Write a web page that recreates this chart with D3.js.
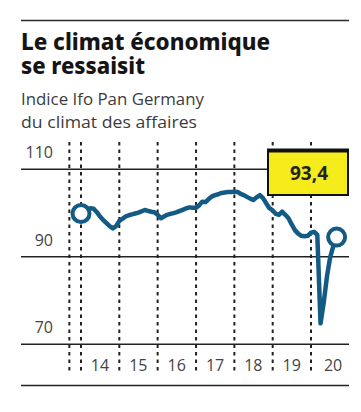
<!DOCTYPE html>
<html>
<head>
<meta charset="utf-8">
<script src="https://cdn.jsdelivr.net/npm/d3@7"></script>
<style>
  body { margin: 0; background: #fff; }
  svg { display: block; }
</style>
</head>
<body>
<svg id="vis" width="361" height="412"></svg>
<script>
// monthly index, Jan 2014 .. Sep 2020
const values2014 = [99.9, 100.3, 100.8, 101.1, 101.0, 100.2, 99.2, 98.4, 97.7, 97.0, 96.5, 97.0];
const values2015 = [98.2, 98.7, 99.2, 99.5, 99.7, 99.9, 100.1, 100.4, 100.7, 100.5, 100.3, 100.2];
const values2016 = [99.6, 98.8, 99.2, 99.6, 99.8, 100.0, 100.2, 100.5, 100.8, 101.1, 101.3, 101.2];
const values2017 = [101.2, 101.8, 102.6, 102.5, 103.2, 103.8, 104.1, 104.3, 104.6, 104.7, 104.8, 104.8];
const values2018 = [104.9, 104.8, 104.4, 104.1, 103.7, 103.3, 103.0, 103.6, 104.1, 103.4, 102.2, 101.1];
const values2019 = [100.6, 99.8, 99.6, 100.3, 99.6, 98.8, 97.4, 96.1, 95.3, 94.8, 94.7, 94.8];
const values2020 = [95.5, 95.7, 95.0, 74.8, 79.5, 85.5, 89.8, 92.5, 94.5];

const yearLabels = ['14', '15', '16', '17', '18', '19', '20'];
const yTicks = [110, 90, 70];
const lastLabel = '93,4';
const title = ['Le climat économique', 'se ressaisit'];
const subtitle = ['Indice Ifo Pan Germany', 'du climat des affaires'];

const allValues = [].concat(values2014, values2015, values2016, values2017, values2018, values2019, values2020);
const series = allValues.map((v, i) => ({date: new Date(2014, i, 1), value: v}));

const vis = d3.select('#vis');
const left = 21, right = 349;
const lineColor = '#135b85';

const x = d3.scaleTime()
  .domain([new Date(2014, 0, 1), new Date(2020, 0, 1)])
  .range([81, 311]);
const y = d3.scaleLinear()
  .domain([70, 110])
  .range([344.3, 169.3]);

// top rule
vis.append('line')
  .attr('x1', left).attr('x2', right)
  .attr('y1', 20.5).attr('y2', 20.5)
  .attr('stroke', '#2a2a2a').attr('stroke-width', 1.6);

vis.append('g').selectAll('text')
  .data(title)
  .join('text')
    .attr('x', left)
    .attr('y', (d, i) => 50 + i * 24)
    .attr('font-family', '"Noto Sans", sans-serif')
    .attr('font-weight', 800)
    .attr('font-size', 23.5)
    .attr('fill', '#151515')
    .attr('textLength', (d, i) => i === 0 ? 249 : 124)
    .attr('lengthAdjust', 'spacingAndGlyphs')
    .text(d => d);

vis.append('g').selectAll('text')
  .data(subtitle)
  .join('text')
    .attr('x', left)
    .attr('y', (d, i) => 104.5 + i * 23.5)
    .attr('font-family', '"Open Sans", sans-serif')
    .attr('font-size', 15.5)
    .attr('fill', '#3c3c3c')
    .attr('textLength', (d, i) => i === 0 ? 183 : 176)
    .attr('lengthAdjust', 'spacingAndGlyphs')
    .text(d => d);

// dashed year separators
const separators = [new Date(2013, 8, 12)].concat(d3.range(2014, 2021).map(yr => new Date(yr, 0, 1)));
vis.append('g').selectAll('line')
  .data(separators)
  .join('line')
    .attr('x1', d => x(d)).attr('x2', d => x(d))
    .attr('y1', 142).attr('y2', 374)
    .attr('stroke', '#222')
    .attr('stroke-width', 2)
    .attr('stroke-dasharray', '3.5,4');

// horizontal grid
vis.append('g').selectAll('line')
  .data(yTicks)
  .join('line')
    .attr('x1', left).attr('x2', right)
    .attr('y1', d => y(d)).attr('y2', d => y(d))
    .attr('stroke', '#222').attr('stroke-width', 1.6);

vis.append('line')
  .attr('x1', left).attr('x2', right)
  .attr('y1', 385.5).attr('y2', 385.5)
  .attr('stroke', '#222').attr('stroke-width', 1.6);

vis.append('g').selectAll('text')
  .data(yTicks)
  .join('text')
    .attr('x', 53)
    .attr('y', d => y(d) - 11)
    .attr('text-anchor', 'end')
    .attr('font-family', '"Open Sans", sans-serif')
    .attr('font-size', 16)
    .attr('fill', '#444')
    .text(d => d);

vis.append('g').selectAll('text')
  .data(yearLabels)
  .join('text')
    .attr('x', d => x(new Date(2000 + +d, 6, 1)) + (d === '20' ? 3 : 0))
    .attr('y', 371)
    .attr('text-anchor', 'middle')
    .attr('font-family', '"Open Sans", sans-serif')
    .attr('font-size', 16)
    .attr('fill', '#444')
    .text(d => d);

// value box
const box = vis.append('g');
box.append('rect')
  .attr('x', 268).attr('y', 150)
  .attr('width', 80).attr('height', 45)
  .attr('fill', '#f6ec1c')
  .attr('stroke', '#111').attr('stroke-width', 2);
box.append('line')
  .attr('x1', 267).attr('x2', 349)
  .attr('y1', 150.5).attr('y2', 150.5)
  .attr('stroke', '#111').attr('stroke-width', 4);
box.append('text')
  .attr('x', 309).attr('y', 179.5)
  .attr('text-anchor', 'middle')
  .attr('font-family', '"Noto Sans", sans-serif')
  .attr('font-weight', 700)
  .attr('font-size', 19)
  .attr('fill', '#222')
  .text(lastLabel);

// series
const line = d3.line()
  .x(d => x(d.date))
  .y(d => y(d.value));

vis.append('path')
  .datum(series)
  .attr('d', line)
  .attr('fill', 'none')
  .attr('stroke', lineColor)
  .attr('stroke-width', 4.5)
  .attr('stroke-linejoin', 'round')
  .attr('stroke-linecap', 'round');

vis.append('g').selectAll('circle')
  .data([series[0], series[series.length - 1]])
  .join('circle')
    .attr('cx', d => x(d.date))
    .attr('cy', d => y(d.value))
    .attr('r', 8.5)
    .attr('fill', '#fff')
    .attr('stroke', lineColor)
    .attr('stroke-width', 4);
</script>
</body>
</html>
